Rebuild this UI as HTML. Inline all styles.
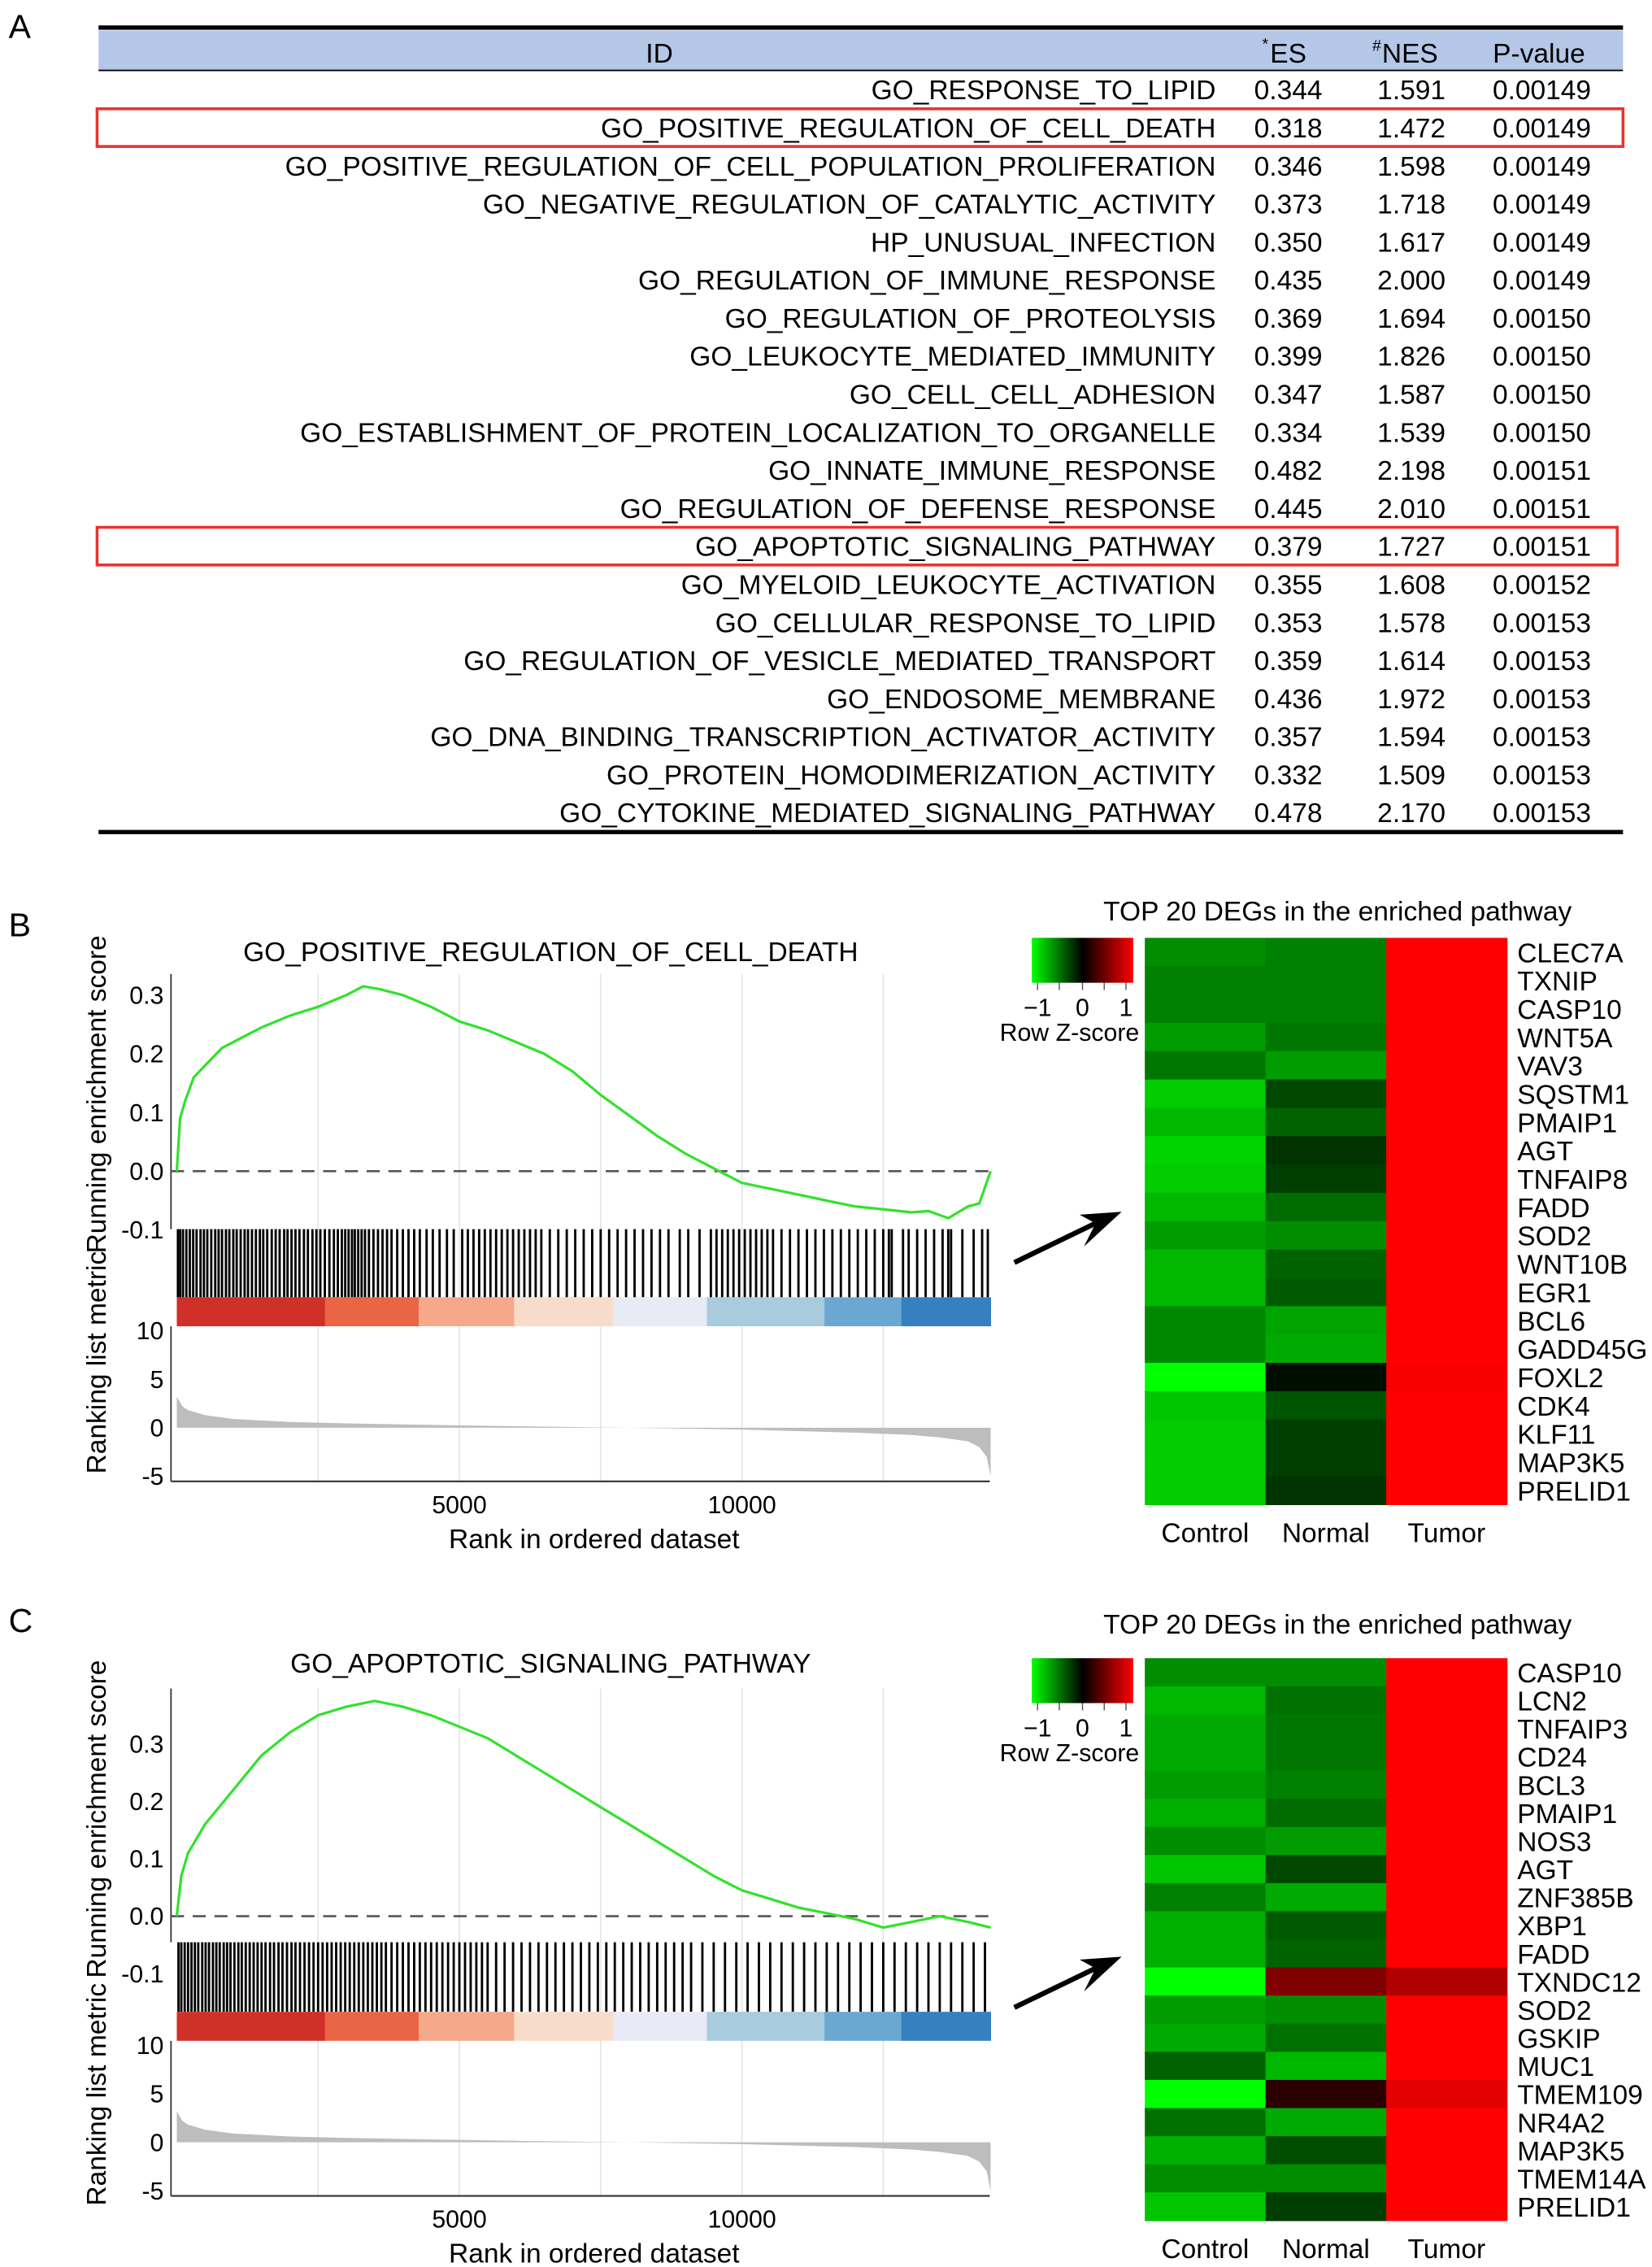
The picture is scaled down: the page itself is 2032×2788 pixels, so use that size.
<!DOCTYPE html>
<html><head><meta charset="utf-8">
<style>
html,body{margin:0;padding:0;background:#fff;}
svg{display:block;font-family:"Liberation Sans",Arial,sans-serif;}
</style></head>
<body>
<svg id="fig" width="2032" height="2788" viewBox="0 0 1140 1564" xmlns="http://www.w3.org/2000/svg">
<g id="panelA"></g>
<g id="panelB"></g>
<g id="panelC"></g>
</svg>
<script>
// ---------- Table data ----------
const tableIds = ["GO_RESPONSE_TO_LIPID","GO_POSITIVE_REGULATION_OF_CELL_DEATH","GO_POSITIVE_REGULATION_OF_CELL_POPULATION_PROLIFERATION","GO_NEGATIVE_REGULATION_OF_CATALYTIC_ACTIVITY","HP_UNUSUAL_INFECTION","GO_REGULATION_OF_IMMUNE_RESPONSE","GO_REGULATION_OF_PROTEOLYSIS","GO_LEUKOCYTE_MEDIATED_IMMUNITY","GO_CELL_CELL_ADHESION","GO_ESTABLISHMENT_OF_PROTEIN_LOCALIZATION_TO_ORGANELLE","GO_INNATE_IMMUNE_RESPONSE","GO_REGULATION_OF_DEFENSE_RESPONSE","GO_APOPTOTIC_SIGNALING_PATHWAY","GO_MYELOID_LEUKOCYTE_ACTIVATION","GO_CELLULAR_RESPONSE_TO_LIPID","GO_REGULATION_OF_VESICLE_MEDIATED_TRANSPORT","GO_ENDOSOME_MEMBRANE","GO_DNA_BINDING_TRANSCRIPTION_ACTIVATOR_ACTIVITY","GO_PROTEIN_HOMODIMERIZATION_ACTIVITY","GO_CYTOKINE_MEDIATED_SIGNALING_PATHWAY"];
const tableES = ["0.344","0.318","0.346","0.373","0.350","0.435","0.369","0.399","0.347","0.334","0.482","0.445","0.379","0.355","0.353","0.359","0.436","0.357","0.332","0.478"];
const tableNES = ["1.591","1.472","1.598","1.718","1.617","2.000","1.694","1.826","1.587","1.539","2.198","2.010","1.727","1.608","1.578","1.614","1.972","1.594","1.509","2.170"];
const tableP = ["0.00149","0.00149","0.00149","0.00149","0.00149","0.00149","0.00150","0.00150","0.00150","0.00150","0.00151","0.00151","0.00151","0.00152","0.00153","0.00153","0.00153","0.00153","0.00153","0.00153"];
const highlightRows = [1,12];

// ---------- GSEA panel B ----------
const bRanks = [0,60,150,300,500,800,1000,1500,2000,2500,3000,3300,3600,4000,4500,5000,5500,6000,6500,7000,7500,8000,8500,9000,9500,10000,10500,11000,11500,12000,12500,13000,13300,13650,14000,14200,14400];
const bES = [0,0.09,0.12,0.16,0.18,0.21,0.22,0.245,0.265,0.28,0.30,0.315,0.31,0.30,0.28,0.255,0.24,0.22,0.20,0.17,0.13,0.095,0.06,0.03,0.005,-0.02,-0.03,-0.04,-0.05,-0.06,-0.065,-0.07,-0.068,-0.08,-0.06,-0.055,0.0];
const bHits = [20,60,110,170,230,290,350,420,480,540,610,680,740,800,870,930,1000,1060,1130,1200,1260,1330,1400,1470,1530,1600,1680,1750,1820,1900,1960,2030,2100,2170,2250,2320,2400,2470,2540,2620,2700,2780,2850,2920,2980,3040,3100,3150,3210,3270,3330,3400,3480,3560,3640,3720,3800,3900,4000,4100,4200,4300,4420,4530,4650,4780,4900,5050,5150,5250,5350,5450,5550,5650,5750,5850,5950,6050,6150,6250,6350,6450,6600,6750,6900,7050,7200,7350,7500,7650,7800,7950,8100,8250,8400,8550,8700,8900,9050,9250,9450,9550,9650,9750,9850,9950,10050,10150,10250,10350,10450,10550,10700,10850,11000,11150,11300,11450,11600,11750,11900,12050,12200,12350,12500,12600,12650,12850,12950,13100,13250,13400,13550,13650,13700,13900,14100,14250,14350];

// ---------- GSEA panel C ----------
const cRanks = [0,80,200,500,1000,1500,2000,2500,3000,3500,4000,4500,5000,5500,6000,6500,7000,7500,8000,8500,9000,9500,10000,10500,11000,11500,12000,12500,13000,13500,14000,14400];
const cES = [0,0.07,0.11,0.16,0.22,0.28,0.32,0.35,0.365,0.375,0.365,0.35,0.33,0.31,0.28,0.25,0.22,0.19,0.16,0.13,0.10,0.07,0.045,0.03,0.015,0.005,-0.005,-0.02,-0.01,0.0,-0.01,-0.02];
const cHits = [30,80,140,200,260,320,380,450,510,570,640,700,760,830,890,950,1020,1090,1150,1220,1290,1360,1430,1500,1570,1650,1720,1800,1870,1950,2030,2100,2180,2260,2340,2420,2500,2580,2660,2740,2820,2900,2980,3060,3140,3220,3300,3380,3460,3540,3620,3700,3800,3900,4000,4100,4200,4300,4400,4500,4600,4700,4800,4900,5000,5100,5200,5300,5400,5500,5650,5800,5950,6100,6250,6400,6550,6700,6850,7000,7150,7300,7450,7600,7750,7900,8050,8200,8350,8500,8650,8800,8950,9100,9300,9500,9700,9900,10100,10300,10500,10700,10900,11100,11300,11500,11700,11900,12100,12300,12500,12700,12900,13100,13300,13500,13700,13900,14100,14300];

// ranking list metric (shared shape)
const metricRanks = [0,100,200,500,1000,2000,3000,4000,6000,8000,10000,12000,13000,13500,14000,14200,14330,14400];
const metricVals = [3.2,2.2,1.8,1.3,0.9,0.6,0.45,0.35,0.15,0.0,-0.2,-0.5,-0.75,-1.0,-1.4,-2.0,-3.0,-5.0];
const bandBreaks = [0,2620,4280,5970,7720,9380,11460,12820,14400];
const bandColors = ["#cf3027","#ea6446","#f6a88a","#f8dccb","#e8eaf6","#a8cbdd","#6aa8d2","#3680bf"];

// ---------- Heatmaps ----------
const columns = ["Control","Normal","Tumor"];
const bGenes = ["CLEC7A","TXNIP","CASP10","WNT5A","VAV3","SQSTM1","PMAIP1","AGT","TNFAIP8","FADD","SOD2","WNT10B","EGR1","BCL6","GADD45G","FOXL2","CDK4","KLF11","MAP3K5","PRELID1"];
const bControl = [-0.5,-0.45,-0.45,-0.55,-0.42,-0.72,-0.65,-0.75,-0.72,-0.65,-0.55,-0.65,-0.65,-0.48,-0.48,-0.9,-0.7,-0.72,-0.72,-0.72];
const bNormal = [-0.45,-0.45,-0.45,-0.42,-0.55,-0.25,-0.35,-0.18,-0.22,-0.38,-0.5,-0.35,-0.32,-0.58,-0.6,-0.05,-0.3,-0.22,-0.22,-0.18];
const bTumor = [1.15,1.15,1.15,1.15,1.15,1.1,1.1,1.05,1.05,1.1,1.1,1.1,1.1,1.15,1.15,0.88,1.05,1.05,1.05,1.02];
const cGenes = ["CASP10","LCN2","TNFAIP3","CD24","BCL3","PMAIP1","NOS3","AGT","ZNF385B","XBP1","FADD","TXNDC12","SOD2","GSKIP","MUC1","TMEM109","NR4A2","MAP3K5","TMEM14A","PRELID1"];
const cControl = [-0.5,-0.65,-0.6,-0.6,-0.55,-0.62,-0.5,-0.7,-0.45,-0.62,-0.62,-0.95,-0.55,-0.6,-0.35,-0.9,-0.4,-0.62,-0.5,-0.7];
const cNormal = [-0.5,-0.4,-0.42,-0.42,-0.45,-0.38,-0.55,-0.25,-0.6,-0.32,-0.35,0.45,-0.5,-0.4,-0.65,0.15,-0.6,-0.28,-0.5,-0.22];
const cTumor = [1.15,1.15,1.15,1.15,1.15,1.15,1.15,1.05,1.15,1.15,1.15,0.62,1.15,1.15,1.15,0.8,1.15,1.1,1.15,1.05];

const NS="http://www.w3.org/2000/svg";
function mk(parent, tag, attrs, text){
  const e=document.createElementNS(NS,tag);
  for(const k in attrs) e.setAttribute(k,attrs[k]);
  if(text!==undefined) e.textContent=text;
  parent.appendChild(e); return e;
}
function zColor(z){
  if(z<0){const g=Math.round(Math.min(1,-z/0.9)*255);return `rgb(0,${g},0)`;}
  const r=Math.round(Math.min(1,z/0.9)*255);return `rgb(${r},0,0)`;
}
const FS=18.8;

// ---------- Panel A ----------
(function(){
  const g=document.getElementById('panelA');
  let t=mk(g,'text',{x:6,y:26,'font-size':23},'A');
  
  
  let r=mk(g,'rect',{x:68,y:21,width:1052,height:27,fill:'#b4c7e7'});
  
  
  let l=mk(g,'line',{x1:68,x2:1120,y1:19,y2:19,stroke:'#000','stroke-width':3});
  
  
  l=mk(g,'line',{x1:68,x2:1120,y1:48.5,y2:48.5,stroke:'#000','stroke-width':1});
  
  
  l=mk(g,'line',{x1:68,x2:1120,y1:574,y2:574,stroke:'#000','stroke-width':3});
  
  
  const hdr=[["ID",455],["ES",889],["NES",973],["P-value",1062]];
  hdr.forEach(h=>{
    const e=mk(g,'text',{x:h[1],y:43,'font-size':FS,'text-anchor':'middle'},h[0]);
    
    
  });
  let s=mk(g,'text',{x:871,y:34,'font-size':11},'*');
  
  
  s=mk(g,'text',{x:947,y:35,'font-size':11},'#');
  
  
  tableIds.forEach((id,i)=>{
    const y=68.5+i*26.25;
    let e=mk(g,'text',{x:839,y:y,'font-size':FS,'text-anchor':'end'},id);
    
    
    e=mk(g,'text',{x:889,y:y,'font-size':FS,'text-anchor':'middle'},tableES[i]);
    
    
    e=mk(g,'text',{x:974,y:y,'font-size':FS,'text-anchor':'middle'},tableNES[i]);
    
    
    e=mk(g,'text',{x:1064,y:y,'font-size':FS,'text-anchor':'middle'},tableP[i]);
    
    
  });
  highlightRows.forEach(i=>{
    const y=48.75+i*26.25;
    const e=mk(g,'rect',{x:67,y:y,width:i===1?1053:1049,height:26,fill:'none',stroke:'#e8332f','stroke-width':2});
    
    
  });
})();

// ---------- GSEA panel ----------
function gsea(g, o){
  const x=r=>122+r*0.039;
  const yES=v=>o.es0-v*o.esPer;
  const yM=v=>o.m0-v*o.mPer;
  const L=118,R=683;
  let e;
  e=mk(g,'text',{x:6,y:o.labelY,'font-size':23},o.letter);
  
  
  e=mk(g,'text',{x:380,y:o.titleY,'font-size':FS,'text-anchor':'middle'},o.title);
  
  
  [2500,5000,7500,10000,12500].forEach(r=>{
    const gl=mk(g,'line',{x1:x(r),x2:x(r),y1:o.esTop,y2:o.axisY,stroke:'#e6e6e6','stroke-width':1});
    
    
  });
  e=mk(g,'line',{x1:L,x2:L,y1:o.esTop,y2:o.hitTop,stroke:'#333','stroke-width':1});
  
  
  [0.3,0.2,0.1,0.0,-0.1].forEach(v=>{
    if(yES(v)<o.esTop-2) return;
    const tk=mk(g,'text',{x:L-5,y:yES(v)+6,'font-size':17,'text-anchor':'end'},v.toFixed(1));
    
    
  });
  e=mk(g,'line',{x1:L,x2:R,y1:yES(0),y2:yES(0),stroke:'#555','stroke-width':1.5,'stroke-dasharray':'9,6'});
  
  
  const pts=o.ranks.map((r,i)=>x(r).toFixed(1)+','+yES(o.es[i]).toFixed(1)).join(' ');
  e=mk(g,'polyline',{points:pts,fill:'none',stroke:'#33e12e','stroke-width':1.8});
  
  
  const hg=mk(g,'g',{});
  
  
  o.hits.forEach(r=>{
    const hl=mk(hg,'line',{x1:x(r),x2:x(r),y1:o.hitTop,y2:o.bandTop,stroke:'#000','stroke-width':1.6});
    
    
  });
  for(let i=0;i<bandColors.length;i++){
    const b=mk(g,'rect',{x:x(bandBreaks[i]),y:o.bandTop,width:x(bandBreaks[i+1])-x(bandBreaks[i])+0.3,height:o.bandH,fill:bandColors[i]});
    
    
  }
  e=mk(g,'line',{x1:L,x2:L,y1:o.bandTop+o.bandH,y2:o.axisY,stroke:'#333','stroke-width':1});
  
  
  [10,5,0,-5].forEach(v=>{
    const tk=mk(g,'text',{x:L-5,y:yM(v)+6,'font-size':17,'text-anchor':'end'},String(v));
    
    
  });
  let d='M'+x(0)+','+yM(0);
  metricRanks.forEach((r,i)=>{d+=' L'+x(r).toFixed(1)+','+yM(metricVals[i]).toFixed(1);});
  d+=' L'+x(metricRanks[metricRanks.length-1])+','+yM(0)+' Z';
  e=mk(g,'path',{d:d,fill:'#bdbdbd',stroke:'none'});
  
  
  e=mk(g,'line',{x1:L,x2:R,y1:o.axisY,y2:o.axisY,stroke:'#333','stroke-width':1.2});
  
  
  [5000,10000].forEach(r=>{
    const tk=mk(g,'text',{x:x(r),y:o.axisY+22,'font-size':17,'text-anchor':'middle'},String(r));
    
    
  });
  e=mk(g,'text',{x:410,y:o.axisY+46,'font-size':FS,'text-anchor':'middle'},'Rank in ordered dataset');
  
  
  e=mk(g,'text',{x:0,y:0,'font-size':FS,'text-anchor':'middle',transform:`translate(73,${o.esLabelY}) rotate(-90)`},'Running enrichment score');
  
  
  e=mk(g,'text',{x:0,y:0,'font-size':FS,'text-anchor':'middle',transform:`translate(73,${o.mLabelY}) rotate(-90)`},'Ranking list metric');
  
  
}

function heatmap(g,o){
  const X0=790, cw=83.3, rh=(o.bottom-o.top)/20;
  let e=mk(g,'text',{x:923,y:o.titleY,'font-size':FS,'text-anchor':'middle'},'TOP 20 DEGs in the enriched pathway');
  
  
  const cols=[o.c,o.n,o.t];
  o.genes.forEach((gn,i)=>{
    cols.forEach((arr,j)=>{
      const c=mk(g,'rect',{x:X0+j*cw,y:o.top+i*rh,width:cw+0.4,height:rh+0.4,fill:zColor(arr[i])});
      
      
    });
    const t=mk(g,'text',{x:1047,y:o.top+i*rh+rh/2+7,'font-size':FS},gn);
    
    
  });
  columns.forEach((cn,j)=>{
    const t=mk(g,'text',{x:X0+j*cw+cw/2,y:o.bottom+26,'font-size':FS,'text-anchor':'middle'},cn);
    
    
  });
  const gid='grad'+o.id;
  const defs=mk(g,'defs',{});
  const lg=mk(defs,'linearGradient',{id:gid,x1:0,x2:1,y1:0,y2:0});
  mk(lg,'stop',{offset:'0',  'stop-color':'#00ff00'});
  mk(lg,'stop',{offset:'0.5','stop-color':'#000000'});
  mk(lg,'stop',{offset:'1',  'stop-color':'#ff0000'});
  e=mk(g,'rect',{x:712,y:o.top,width:70,height:31,fill:`url(#${gid})`});
  
  
  [[-1,'\u22121',716],[0,'0',747],[1,'1',777]].forEach(k=>{
    const t=mk(g,'text',{x:k[2],y:o.top+54,'font-size':17,'text-anchor':'middle'},k[1]);
    
    
  });
  [716,731,747,762,777].forEach(xx=>{
    const tl=mk(g,'line',{x1:xx,x2:xx,y1:o.top+31,y2:o.top+36,stroke:'#555','stroke-width':0.8});
    
    
  });
  e=mk(g,'text',{x:738,y:o.top+71,'font-size':17,'text-anchor':'middle'},'Row Z-score');
  
  
  const a=mk(g,'g',{});
  
  
  mk(a,'line',{x1:700,y1:o.arrowY+35,x2:760,y2:o.arrowY+6,stroke:'#000','stroke-width':3.5});
  mk(a,'polygon',{points:`${774},${o.arrowY} ${745},${o.arrowY+2} ${756},${o.arrowY+8} ${748},${o.arrowY+24}`,fill:'#000'});
}

const gB=document.getElementById('panelB');
gsea(gB,{letter:'B',labelY:646,title:'GO_POSITIVE_REGULATION_OF_CELL_DEATH',titleY:663,
  esTop:672,es0:808,esPer:405,hitTop:848,bandTop:895,bandH:20,m0:985,mPer:6.7,axisY:1022,
  esLabelY:755,mLabelY:940,ranks:bRanks,es:bES,hits:bHits});
heatmap(gB,{id:'B',titleY:635,top:647,bottom:1038,genes:bGenes,c:bControl,n:bNormal,t:bTumor,arrowY:836});

const gC=document.getElementById('panelC');
gsea(gC,{letter:'C',labelY:1126,title:'GO_APOPTOTIC_SIGNALING_PATHWAY',titleY:1154,
  esTop:1165,es0:1322,esPer:396,hitTop:1340,bandTop:1388,bandH:20,m0:1478,mPer:6.7,axisY:1515,
  esLabelY:1255,mLabelY:1445,ranks:cRanks,es:cES,hits:cHits});
heatmap(gC,{id:'C',titleY:1127,top:1144,bottom:1532,genes:cGenes,c:cControl,n:cNormal,t:cTumor,arrowY:1350});
</script>
</body></html>
